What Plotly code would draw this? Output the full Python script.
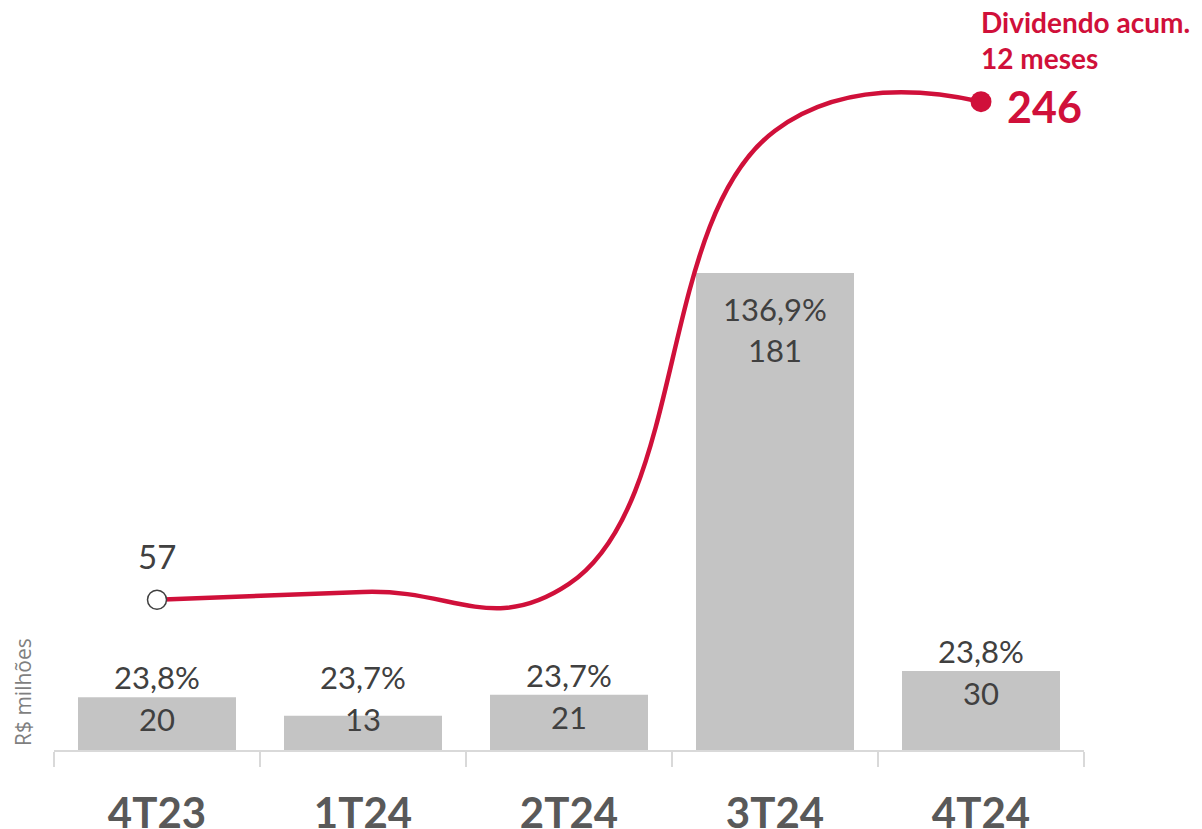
import plotly.graph_objects as go

trimestres = ["4T23", "1T24", "2T24", "3T24", "4T24"]
dividendos = [20, 13, 21, 181, 30]
payout = ["23,8%", "23,7%", "23,7%", "136,9%", "23,8%"]
acumulado_12m = [57, 60, 63, 235, 246]

VERMELHO = "#d0103a"
CINZA_BARRA = "#c4c4c4"
CINZA_TEXTO = "#404040"

fig = go.Figure()

fig.add_trace(go.Bar(x=trimestres, y=dividendos, marker_color=CINZA_BARRA,
                     marker_line_width=0, showlegend=False, hoverinfo="skip"))

fig.add_trace(go.Scatter(x=trimestres, y=acumulado_12m, mode="lines",
                         line=dict(color=VERMELHO, width=4.5, shape="spline", smoothing=1.3),
                         showlegend=False, hoverinfo="skip"))

# marcadores das pontas
fig.add_trace(go.Scatter(x=[trimestres[0]], y=[acumulado_12m[0]], mode="markers",
                         marker=dict(size=19, color="white", line=dict(color=CINZA_TEXTO, width=1.5)),
                         showlegend=False, hoverinfo="skip"))
fig.add_trace(go.Scatter(x=[trimestres[-1]], y=[acumulado_12m[-1]], mode="markers",
                         marker=dict(size=21, color=VERMELHO),
                         showlegend=False, hoverinfo="skip"))

fonte_num = dict(family="Lato", size=31, color=CINZA_TEXTO)

for t, v, p in zip(trimestres, dividendos, payout):
    if v > 100:
        # rótulos dentro da barra alta
        fig.add_annotation(x=t, y=v, text=p, showarrow=False, yanchor="top",
                           yshift=-15, font=fonte_num)
        fig.add_annotation(x=t, y=v, text=str(v), showarrow=False, yanchor="top",
                           yshift=-56, font=fonte_num)
    else:
        ypos = max(v, 20)  # barras muito baixas: rótulo não desce abaixo do eixo
        fig.add_annotation(x=t, y=ypos, text=p, showarrow=False, yanchor="bottom",
                           yshift=-1, font=fonte_num)
        fig.add_annotation(x=t, y=ypos, text=str(v), showarrow=False, yanchor="top",
                           yshift=-1, font=fonte_num)

fig.add_annotation(x=trimestres[0], y=acumulado_12m[0], text=str(acumulado_12m[0]),
                   showarrow=False, yshift=44, font=dict(family="Lato", size=33, color=CINZA_TEXTO))

fig.add_annotation(x=trimestres[-1], y=acumulado_12m[-1], text=f"<b>{acumulado_12m[-1]}</b>",
                   showarrow=False, xanchor="left", xshift=24, yshift=-5,
                   font=dict(family="Lato", size=43, color=VERMELHO))

fonte_titulo = dict(family="Lato", size=28, color=VERMELHO)
fig.add_annotation(x=trimestres[-1], y=acumulado_12m[-1], text="<b>Dividendo acum.</b>",
                   showarrow=False, xanchor="left", xshift=-1, yshift=80, borderpad=0,
                   font=fonte_titulo)
fig.add_annotation(x=trimestres[-1], y=acumulado_12m[-1], text="<b>12 meses</b>",
                   showarrow=False, xanchor="left", xshift=-1, yshift=44, borderpad=0,
                   font=fonte_titulo)

fig.add_annotation(xref="paper", x=0, xanchor="center", xshift=-31, y=22, text="R$ milhões",
                   textangle=-90, showarrow=False, borderpad=0,
                   font=dict(family="Open Sans", size=21, color="#7f7f7f"))

# a página tem 8px de margem no body: a figura ocupa o resto da janela
fig.update_layout(
    width=1194, height=821,
    margin=dict(l=46, r=118, t=12, b=79),
    plot_bgcolor="white", paper_bgcolor="white",
    bargap=0.233,
    xaxis=dict(range=[-0.5, 4.5], automargin=False, showline=True, linecolor="#d9d9d9", linewidth=2,
               ticks="outside", tickson="boundaries", ticklen=15, tickcolor="#d9d9d9", tickwidth=2,
               ticklabelstandoff=26,
               tickfont=dict(family="Lato", size=42, color="#595959"),
               tickprefix="<b>", ticksuffix="</b>", showgrid=False),
    yaxis=dict(visible=False, range=[0, 277], showgrid=False, zeroline=False),
)

fig.write_html("out.html")
